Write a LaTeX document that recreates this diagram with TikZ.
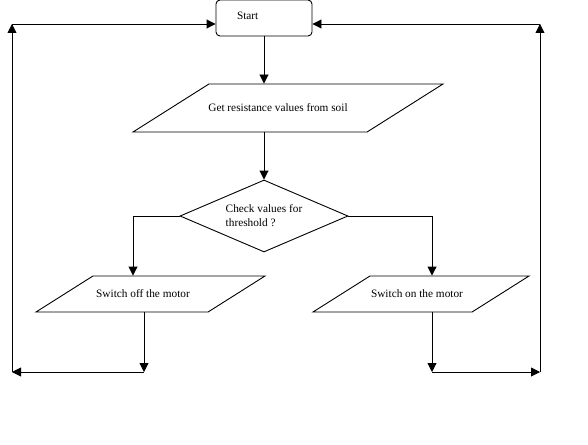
\documentclass[tikz,border=0pt]{standalone}
\usepackage{fontspec}
\setmainfont{Liberation Serif}
\usetikzlibrary{arrows.meta, shapes.geometric}

\begin{document}
\begin{tikzpicture}[
  x=1pt, y=-1pt,
  font=\fontsize{11.3pt}{14pt}\selectfont,
  line width=0.9pt,
  startbox/.style={
    draw, rounded corners=4pt,
    minimum width=96pt, minimum height=36pt, inner sep=0pt
  },
  io/.style={
    draw, trapezium, trapezium stretches body,
    trapezium left angle=32.3, trapezium right angle=147.7,
    inner sep=0pt, align=center
  },
  decision/.style={
    draw, diamond, aspect=2.33,
    minimum width=168pt, minimum height=72pt,
    inner sep=0pt, align=left
  },
  arr/.style={-{Triangle[length=9pt, width=9pt]}}
]
  \useasboundingbox (0,0) rectangle (588,444);

  \node[startbox] (start) at (264,18) {\raisebox{4pt}{\makebox[54pt][l]{Start}}};
  \node[io, text height=27pt, text depth=21pt, minimum width=310pt] (getres) at (288,108)
    {\hspace*{-20pt}Get resistance values from soil};
  \node[decision] (check) at (264,216) {Check values for\\threshold ?};
  \node[io, text height=21pt, text depth=15pt, minimum width=229pt] (off) at (150.5,294)
    {\hspace*{-15pt}Switch off the motor};
  \node[io, text height=21pt, text depth=15pt, minimum width=216pt] (on) at (421,294)
    {\hspace*{-8pt}Switch on the motor};

  \coordinate (offend) at (144,372);
  \coordinate (leftend) at (12,372);
  \coordinate (leftcorner) at (12,24);
  \coordinate (onend) at (432,372);
  \coordinate (rightend) at (540,372);
  \coordinate (rightcorner) at (540,24);

  \draw[arr] (start) -- (start |- getres.north);
  \draw[arr] (check |- getres.south) -- (check.north);
  \draw[arr] (check.west) -| ([xshift=-17.5pt]off.north);
  \draw[arr] (check.east) -| ([xshift=11pt]on.north);

  \draw[arr] (offend |- off.south) -- (offend);
  \draw[arr] (offend) -- (leftend);
  \draw[arr] (leftend) -- (leftcorner);
  \draw[arr] (leftcorner) -- (leftcorner -| start.west);

  \draw[arr] (onend |- on.south) -- (onend);
  \draw[arr] (onend) -- (rightend);
  \draw[arr] (rightend) -- (rightcorner);
  \draw[arr] (rightcorner) -- (rightcorner -| start.east);
\end{tikzpicture}
\end{document}
